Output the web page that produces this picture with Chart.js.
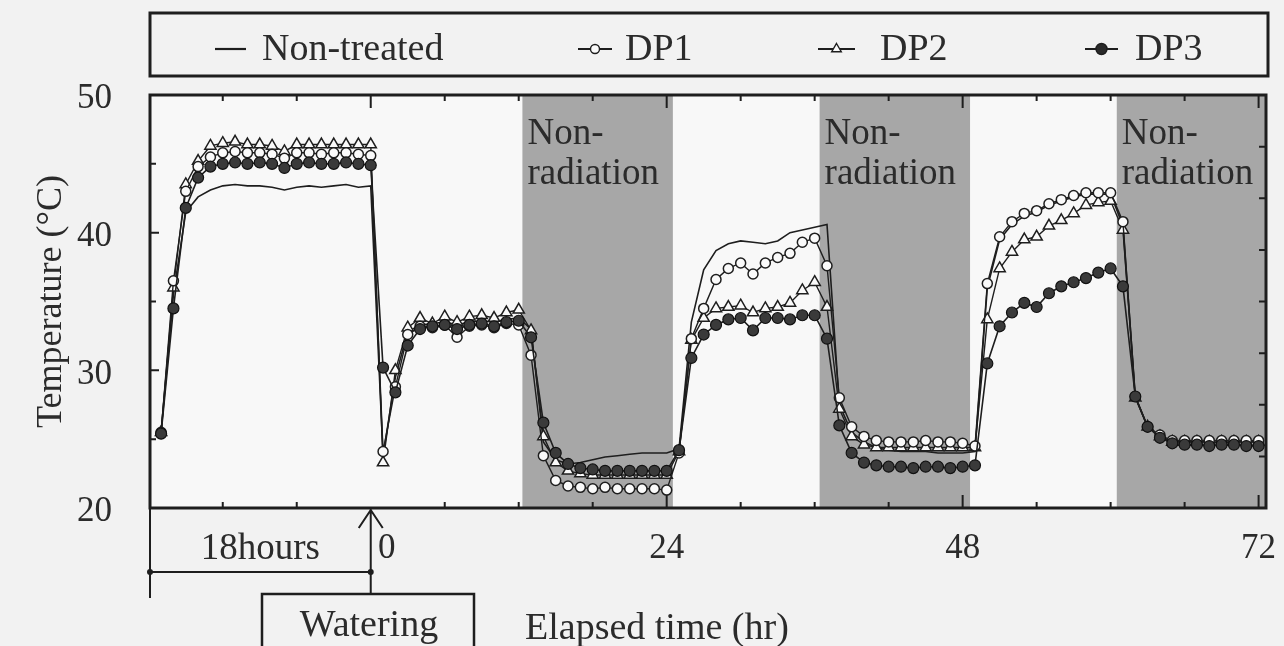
<!DOCTYPE html>
<html><head><meta charset="utf-8">
<script src="https://cdn.jsdelivr.net/npm/chart.js@4/dist/chart.umd.min.js"></script>
<style>html,body{margin:0;padding:0;background:#f2f2f2;}canvas{display:block;}</style>
</head><body>
<canvas id="c" width="1284" height="646"></canvas>
<script>
// ---- data ----
const hours = [-17,-16,-15,-14,-13,-12,-11,-10,-9,-8,-7,-6,-5,-4,-3,-2,-1,0,
  1,2,3,4,5,6,7,8,9,10,11,12,13,14,15,16,17,18,19,20,21,22,23,24,
  25,26,27,28,29,30,31,32,33,34,35,36,37,38,39,40,41,42,43,44,45,46,47,48,
  49,50,51,52,53,54,55,56,57,58,59,60,61,62,63,64,65,66,67,68,69,70,71,72];
const nonTreated = [25.5,35.5,41.5,42.6,43.1,43.4,43.5,43.4,43.4,43.3,43.1,43.3,43.4,43.3,43.4,43.5,43.3,43.4,
  23.8,29.5,32.8,33.3,33.4,33.5,33.3,33.5,33.6,33.5,33.7,33.8,33.0,24.8,23.5,23.2,23.3,23.5,23.7,23.8,23.9,24.0,24.0,24.0,
  24.3,33.5,37.3,38.7,39.2,39.4,39.3,39.2,39.4,40.0,40.2,40.4,40.6,27.5,25.5,24.8,24.4,24.2,24.1,24.1,24.1,24.0,24.0,24.0,
  24.1,36.0,39.5,40.6,41.2,41.5,42.0,42.3,42.6,42.8,42.8,42.8,40.5,28.1,25.9,25.2,24.8,24.8,24.8,24.8,24.7,24.8,24.8,24.8];
const dp1 = [25.5,36.5,43.0,44.8,45.5,45.8,45.9,45.8,45.8,45.7,45.4,45.8,45.8,45.7,45.8,45.8,45.7,45.6,
  24.1,28.8,32.6,33.2,33.1,33.3,32.4,33.2,33.3,33.1,33.4,33.3,31.1,23.8,22.0,21.6,21.5,21.4,21.5,21.4,21.4,21.4,21.4,21.3,
  24.0,32.3,34.5,36.6,37.4,37.8,37.0,37.8,38.2,38.5,39.3,39.6,37.6,28.0,25.9,25.2,24.9,24.8,24.8,24.8,24.9,24.8,24.8,24.7,
  24.5,36.3,39.7,40.8,41.4,41.6,42.1,42.4,42.7,42.9,42.9,42.9,40.8,28.1,25.9,25.3,24.9,24.9,24.9,24.9,24.9,24.9,24.9,24.9];
const dp2 = [25.5,36.0,43.5,45.2,46.3,46.5,46.6,46.4,46.4,46.3,45.9,46.4,46.4,46.4,46.4,46.4,46.4,46.4,
  23.3,30.0,33.1,33.8,33.4,33.9,33.5,33.9,34.0,33.8,34.2,34.4,32.9,25.2,23.3,22.7,22.5,22.4,22.4,22.4,22.4,22.4,22.4,22.4,
  24.1,32.2,33.8,34.5,34.6,34.7,34.2,34.5,34.6,34.9,35.8,36.4,34.6,27.2,25.2,24.6,24.4,24.4,24.4,24.4,24.4,24.4,24.4,24.4,
  24.4,33.7,37.4,38.6,39.5,39.7,40.5,40.9,41.4,42.0,42.2,42.3,40.2,28.0,25.9,25.2,24.8,24.8,24.8,24.8,24.8,24.8,24.8,24.8];
const dp3 = [25.4,34.5,41.8,44.0,44.8,45.0,45.1,45.0,45.1,45.0,44.7,45.0,45.1,45.0,45.0,45.1,45.0,44.9,
  30.2,28.4,31.8,33.0,33.2,33.3,33.0,33.3,33.4,33.2,33.5,33.6,32.4,26.2,24.0,23.2,22.9,22.8,22.7,22.7,22.7,22.7,22.7,22.7,
  24.2,30.9,32.6,33.3,33.7,33.8,32.9,33.8,33.8,33.7,34.0,34.0,32.3,26.0,24.0,23.3,23.1,23.0,23.0,22.9,23.0,23.0,22.9,23.0,
  23.1,30.5,33.2,34.2,34.9,34.6,35.6,36.1,36.4,36.7,37.1,37.4,36.1,28.1,25.9,25.1,24.7,24.6,24.6,24.5,24.6,24.6,24.5,24.5];
const seriesNames = ['Non-treated','DP1','DP2','DP3'];
const xTickValues = [0,24,48,72];
const xTickLabels = ['0','24','48','72'];
const yTickValues = [20,30,40,50];
const darkStarts = [12.3,36.4,60.5];
const darkEnds = [24.5,48.6,72.6];
const darkLabel = ['Non-','radiation'];
const preLabel = '18hours';
const wateringLabel = 'Watering';
const xTitle = 'Elapsed time (hr)';
const yTitle = 'Temperature (°C)';

// ---- styles ----
const INK = '#1e1e1e';
const TXT = '#2b2b2b';
const FONT = "'Liberation Serif', 'Times New Roman', serif";
const toXY = arr => hours.map((h, i) => ({x: h, y: arr[i]}));

const datasets = [
  {label: seriesNames[0], data: toXY(nonTreated), borderColor: INK, borderWidth: 1.6, pointRadius: 0, order: 4},
  {label: seriesNames[1], data: toXY(dp1), borderColor: INK, borderWidth: 1.4, pointRadius: 5, pointStyle: 'circle',
    pointBackgroundColor: '#fafafa', pointBorderColor: INK, pointBorderWidth: 1.5, order: 2},
  {label: seriesNames[2], data: toXY(dp2), borderColor: INK, borderWidth: 1.4, pointRadius: 6.5, pointStyle: 'triangle',
    pointBackgroundColor: '#fafafa', pointBorderColor: INK, pointBorderWidth: 1.5, order: 3},
  {label: seriesNames[3], data: toXY(dp3), borderColor: INK, borderWidth: 1.6, pointRadius: 5.5, pointStyle: 'circle',
    pointBackgroundColor: '#3a3a3a', pointBorderColor: '#111', pointBorderWidth: 1.2, order: 1}
];

function marker(ctx, style, x, y, r, fill) {
  ctx.save();
  ctx.fillStyle = fill; ctx.strokeStyle = INK; ctx.lineWidth = 1.4;
  ctx.beginPath();
  if (style === 'triangle') {
    ctx.moveTo(x, y - r); ctx.lineTo(x + r * 0.87, y + r * 0.5); ctx.lineTo(x - r * 0.87, y + r * 0.5); ctx.closePath();
  } else {
    ctx.arc(x, y, r, 0, Math.PI * 2);
  }
  ctx.fill(); ctx.stroke();
  ctx.restore();
}

const decor = {
  id: 'decor',
  beforeDatasetsDraw(chart) {
    const {ctx, chartArea: a, scales: {x}} = chart;
    ctx.save();
    ctx.fillStyle = '#f8f8f8';
    ctx.fillRect(a.left, a.top, a.right - a.left, a.bottom - a.top);
    ctx.fillStyle = '#a7a7a7';
    darkStarts.forEach((s, i) => {
      const x1 = x.getPixelForValue(s), x2 = Math.min(x.getPixelForValue(darkEnds[i]), a.right);
      ctx.fillRect(x1, a.top, x2 - x1, a.bottom - a.top);
    });
    ctx.fillStyle = TXT;
    ctx.font = '37px ' + FONT;
    ctx.textAlign = 'left'; ctx.textBaseline = 'alphabetic';
    darkStarts.forEach(s => {
      const px = x.getPixelForValue(s) + 5;
      ctx.fillText(darkLabel[0], px, a.top + 49);
      ctx.fillText(darkLabel[1], px, a.top + 89);
    });
    ctx.restore();
  },
  afterDraw(chart) {
    const {ctx, chartArea: a, scales: {x, y, y2}} = chart;
    ctx.save();
    ctx.strokeStyle = INK; ctx.fillStyle = TXT;
    // inward ticks
    ctx.lineWidth = 2;
    ctx.beginPath();
    for (let v = -12; v <= 72; v += 6) {
      const px = x.getPixelForValue(v);
      if (px <= a.left + 2 || px >= a.right - 2) continue;
      const L = v % 24 === 0 ? 13 : 6;
      ctx.moveTo(px, a.top); ctx.lineTo(px, a.top + L);
      if (v !== 0) { ctx.moveTo(px, a.bottom); ctx.lineTo(px, a.bottom - L); }
    }
    for (let v = 25; v <= 45; v += 5) {
      const py = y.getPixelForValue(v);
      const L = v % 10 === 0 ? 9 : 6;
      ctx.moveTo(a.left, py); ctx.lineTo(a.left + L, py);
    }
    for (let k = 1; k < 8; k++) {
      const py = y2.getPixelForValue(k);
      ctx.moveTo(a.right, py); ctx.lineTo(a.right - 7, py);
    }
    ctx.stroke();
    // frame
    ctx.lineWidth = 3;
    ctx.strokeRect(a.left, a.top, a.right - a.left, a.bottom - a.top);

    // x tick labels
    ctx.font = '35px ' + FONT;
    ctx.textAlign = 'center'; ctx.textBaseline = 'middle';
    xTickValues.forEach((v, i) => {
      const px = x.getPixelForValue(v) + (v === 0 ? 16 : 0);
      ctx.fillText(xTickLabels[i], px, a.bottom + 41);
    });

    // bracket for the 18 hours before watering
    const x0 = x.getPixelForValue(0);
    ctx.lineWidth = 2;
    ctx.beginPath();
    ctx.moveTo(a.left, a.bottom); ctx.lineTo(a.left, a.bottom + 90);
    ctx.moveTo(a.left, a.bottom + 64); ctx.lineTo(x0, a.bottom + 64);
    ctx.moveTo(x0, a.bottom); ctx.lineTo(x0, a.bottom + 86);
    ctx.moveTo(x0 - 12, a.bottom + 20); ctx.lineTo(x0, a.bottom + 2); ctx.lineTo(x0 + 12, a.bottom + 20);
    ctx.stroke();
    ctx.fillStyle = INK;
    [a.left, x0].forEach(px => { ctx.beginPath(); ctx.arc(px, a.bottom + 64, 3, 0, Math.PI * 2); ctx.fill(); });
    ctx.fillStyle = TXT;
    ctx.font = '37px ' + FONT;
    ctx.fillText(preLabel, (a.left + x0) / 2, a.bottom + 41);

    // watering box
    ctx.lineWidth = 2.5;
    ctx.strokeRect(262, a.bottom + 86, 212, 80);
    ctx.font = '38px ' + FONT;
    ctx.fillText(wateringLabel, 369, a.bottom + 118);

    // x title
    ctx.textAlign = 'left';
    ctx.fillText(xTitle, 525, a.bottom + 121);

    // legend box
    ctx.lineWidth = 3;
    ctx.strokeRect(a.left, 13, a.right + 2 - a.left, 63);
    const items = [
      {lx: 215, lw: 31, tx: 262, style: null},
      {lx: 578, lw: 34, tx: 625, style: 'circle', fill: '#fafafa', r: 4.5},
      {lx: 818, lw: 37, tx: 880, style: 'triangle', fill: '#fafafa', r: 5.5},
      {lx: 1085, lw: 33, tx: 1135, style: 'circle', fill: '#2a2a2a', r: 5.5}
    ];
    ctx.font = '38px ' + FONT;
    ctx.textBaseline = 'middle';
    items.forEach((it, i) => {
      const ly = 49;
      ctx.strokeStyle = INK; ctx.lineWidth = 2.2;
      ctx.beginPath(); ctx.moveTo(it.lx, ly); ctx.lineTo(it.lx + it.lw, ly); ctx.stroke();
      if (it.style) marker(ctx, it.style, it.lx + it.lw / 2, ly, it.r, it.fill);
      ctx.fillStyle = TXT;
      ctx.fillText(seriesNames[i], it.tx, ly + 1);
    });
    ctx.restore();
  }
};

new Chart(document.getElementById('c'), {
  type: 'line',
  data: {datasets},
  options: {
    responsive: false,
    animation: false,
    layout: {padding: {left: 0, top: 95, right: 18, bottom: 138}},
    plugins: {legend: {display: false}, tooltip: {enabled: false}},
    elements: {line: {tension: 0}},
    scales: {
      x: {type: 'linear', min: -17.9, max: 72.6, display: false},
      y: {
        type: 'linear', min: 20, max: 50,
        afterBuildTicks: s => { s.ticks = yTickValues.map(v => ({value: v})); },
        afterFit: s => { s.width = 150; },
        grid: {display: false}, border: {display: false},
        ticks: {color: TXT, font: {family: FONT, size: 35}, padding: 30, labelOffset: 4},
        title: {display: true, text: yTitle, color: TXT, font: {family: FONT, size: 36}, padding: {top: 30, bottom: 0}}
      },
      y2: {type: 'linear', min: 0, max: 8, display: false, position: 'right'}
    }
  },
  plugins: [decor]
});
</script>
</body></html>
